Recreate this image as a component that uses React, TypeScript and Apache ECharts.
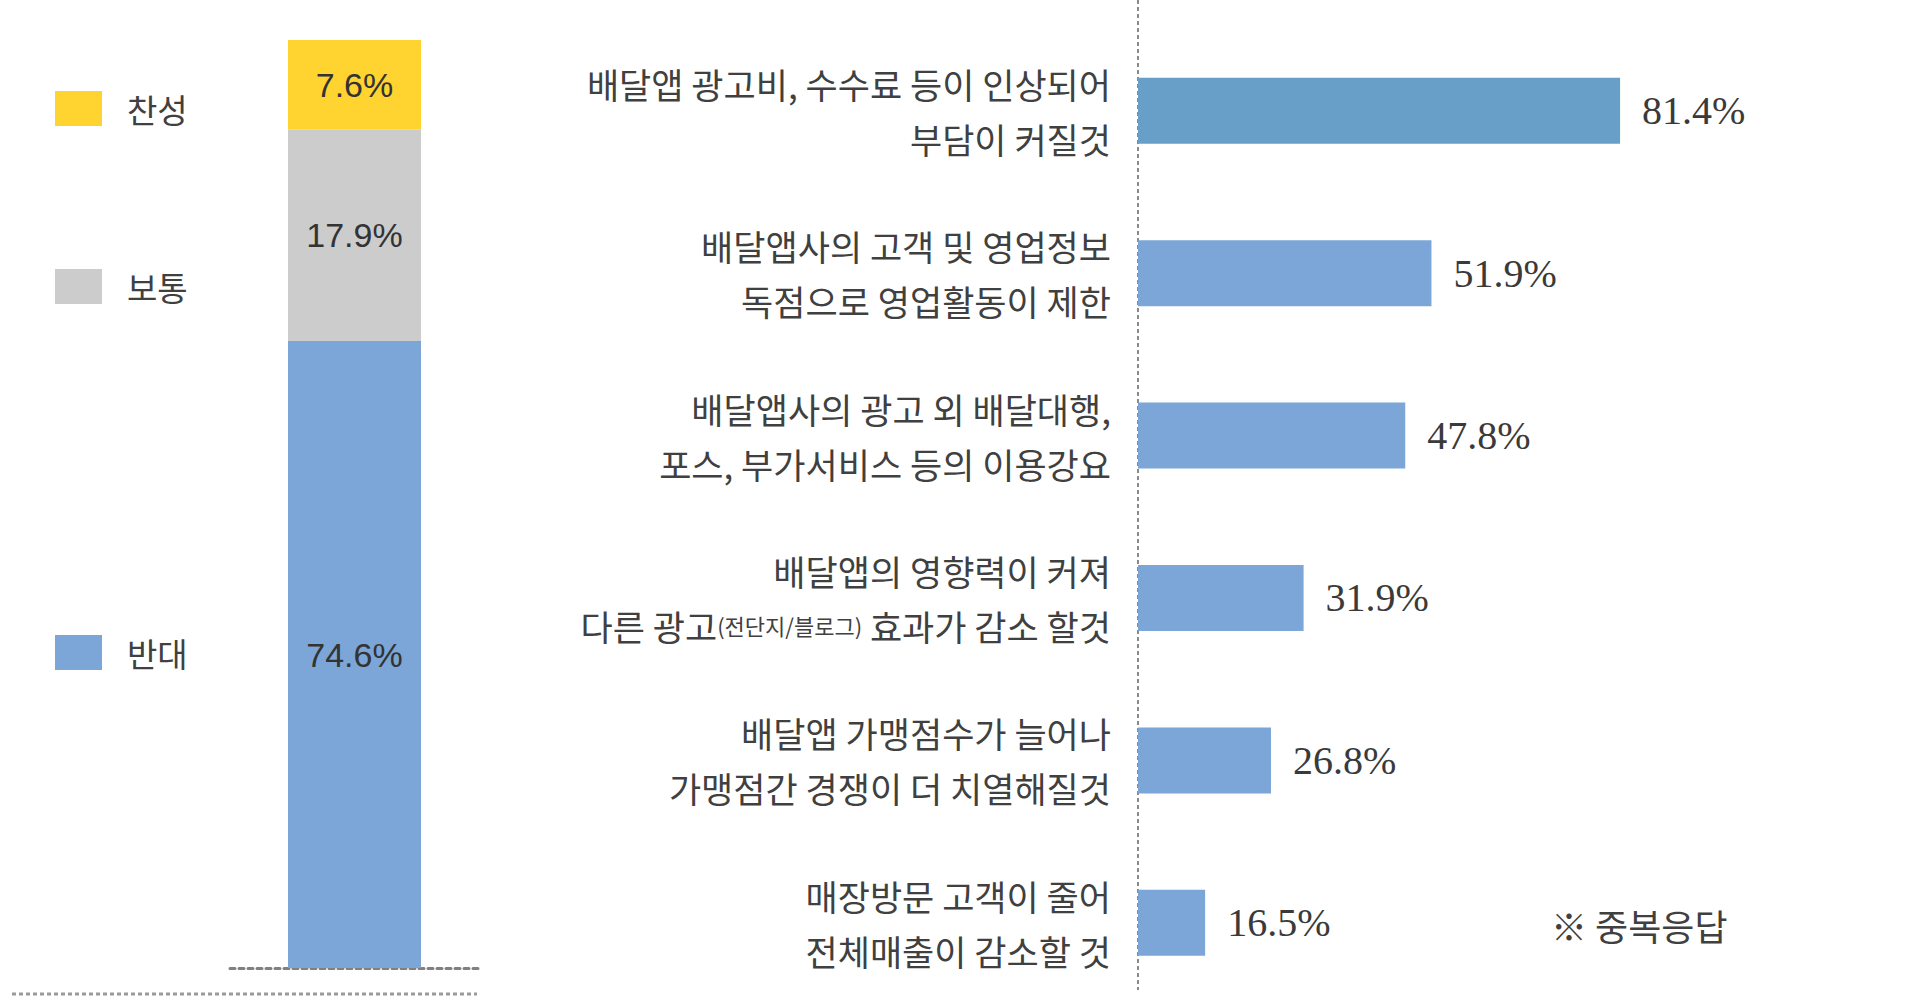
import React, { useEffect, useRef } from "react";
import * as echarts from "echarts";

// ---- data ----
const stanceNames = ["반대", "보통", "찬성"];
const stanceValues = [74.6, 17.9, 7.6];
const legendOrder = ["찬성", "보통", "반대"];

const concernLabels = [
  "배달앱 광고비, 수수료 등이 인상되어\n부담이 커질것",
  "배달앱사의 고객 및 영업정보\n독점으로 영업활동이 제한",
  "배달앱사의 광고 외 배달대행,\n포스, 부가서비스 등의 이용강요",
  "배달앱의 영향력이 커져\n다른 광고(전단지/블로그) 효과가 감소 할것",
  "배달앱 가맹점수가 늘어나\n가맹점간 경쟁이 더 치열해질것",
  "매장방문 고객이 줄어\n전체매출이 감소할 것",
];
const concernValues = [81.4, 51.9, 47.8, 31.9, 26.8, 16.5];
const noteText = "※ 중복응답";

// ---- styles ----
const stanceColors: Record<string, string> = {
  찬성: "#FFD430",
  보통: "#CCCCCC",
  반대: "#7BA6D7",
};
const topBarColor = "#689FC9";
const barColor = "#7BA6D7";
const textColor = "#404040";
const krFont = "'Noto Sans CJK KR', 'Noto Sans', sans-serif";

export default function App() {
  const ref = useRef<HTMLDivElement>(null);

  useEffect(() => {
    if (!ref.current) return;
    const chart = echarts.init(ref.current, undefined, { renderer: "svg" });

    const legendTops = [86, 264, 630];
    const legends = legendOrder.map((name, i) => ({
      data: [name],
      left: 50,
      top: legendTops[i],
      orient: "vertical",
      icon: "rect",
      itemWidth: 47,
      itemHeight: 35,
      selectedMode: false,
      textStyle: {
        fontSize: 33,
        lineHeight: 35,
        color: textColor,
        fontFamily: krFont,
        padding: [0, 0, 0, 20],
      },
    }));

    const stackSeries = stanceNames.map((name, i) => ({
      name,
      type: "bar",
      stack: "total",
      xAxisIndex: 0,
      yAxisIndex: 0,
      barWidth: 133,
      clip: true,
      data: [stanceValues[i]],
      itemStyle: { color: stanceColors[name] },
      label: {
        show: true,
        position: "inside",
        formatter: "{c}%",
        fontSize: 34,
        color: "#333333",
        fontFamily: "'Liberation Sans', Arial, sans-serif",
      },
    }));

    const option = {
      animation: false,
      backgroundColor: "#ffffff",
      legend: legends,
      title: {
        text: noteText,
        left: 1546,
        top: 902,
        textStyle: {
          fontSize: 36,
          fontWeight: "normal",
          color: textColor,
          fontFamily: krFont,
        },
      },
      grid: [
        { left: 230, width: 249, top: 40, height: 928 },
        { left: 1138, width: 601, top: 29.5, height: 1003 },
      ],
      xAxis: [
        {
          type: "category",
          gridIndex: 0,
          data: [""],
          axisLine: {
            show: true,
            lineStyle: { color: "#808080", width: 3, type: [5, 4] },
          },
          axisTick: { show: false },
          axisLabel: { show: false },
        },
        {
          type: "value",
          gridIndex: 1,
          min: 6,
          max: 100,
          show: false,
          splitLine: { show: false },
        },
      ],
      yAxis: [
        {
          type: "value",
          gridIndex: 0,
          min: 21.5,
          max: 100.1,
          show: false,
          splitLine: { show: false },
        },
        {
          type: "category",
          gridIndex: 1,
          inverse: true,
          data: concernLabels,
          axisLine: { show: false },
          axisTick: { show: false },
          axisLabel: {
            margin: 27,
            fontSize: 35,
            lineHeight: 55,
            color: textColor,
            fontFamily: krFont,
            align: "right",
            formatter: (v: string) => v.replace(/(\([^)]*\))/, "{s|$1}"),
            rich: {
              s: {
                fontSize: 22,
                lineHeight: 55,
                color: textColor,
                fontFamily: krFont,
              },
            },
          },
        },
      ],
      series: [
        ...stackSeries,
        {
          name: "응답",
          type: "bar",
          xAxisIndex: 1,
          yAxisIndex: 1,
          barWidth: 66,
          clip: true,
          data: concernValues,
          itemStyle: {
            color: (p: any) => (p.dataIndex === 0 ? topBarColor : barColor),
          },
          label: {
            show: true,
            position: "right",
            distance: 22,
            formatter: "{c}%",
            fontSize: 40,
            color: "#3a3a3a",
            fontFamily: "'Liberation Serif', 'DejaVu Serif', serif",
          },
        },
      ],
      graphic: [
        {
          type: "line",
          shape: { x1: 1138, y1: 0, x2: 1138, y2: 990 },
          style: { stroke: "#8a8a8a", lineWidth: 2, lineDash: [4, 3] },
        },
        {
          type: "line",
          shape: { x1: 12, y1: 994, x2: 477, y2: 994 },
          style: { stroke: "#9a9a9a", lineWidth: 3, lineDash: [4, 3] },
        },
      ],
    };

    chart.setOption(option as any);
    return () => chart.dispose();
  }, []);

  return (
    <div
      ref={ref}
      style={{ position: "fixed", left: 0, top: 0, width: 1920, height: 1004 }}
    />
  );
}
